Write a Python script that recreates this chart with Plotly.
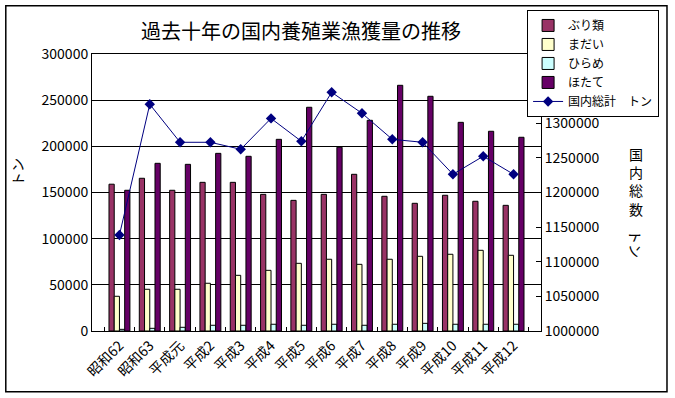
import plotly.graph_objects as go

categories = ["昭和62", "昭和63", "平成元", "平成2", "平成3", "平成4", "平成5",
              "平成6", "平成7", "平成8", "平成9", "平成10", "平成11", "平成12"]
buri = [159000, 165400, 152400, 161000, 161000, 148000, 141500,
        148000, 169700, 145900, 138300, 147000, 140500, 136100]
madai = [37600, 45200, 45200, 51700, 60300, 65700, 73300,
         77700, 72200, 77700, 80900, 83100, 87400, 82000]
hirame = [1800, 2900, 4000, 6200, 6200, 7300, 6200,
          7300, 6200, 7300, 8300, 7300, 7300, 7300]
hotate = [152400, 181600, 180500, 192400, 189200, 207600, 242300,
          199000, 228200, 266100, 254200, 226000, 216300, 209800]
total = [1138600, 1327400, 1272500, 1272500, 1262400, 1307000, 1274000,
         1344700, 1314400, 1276800, 1272500, 1226300, 1252300, 1226300]

left_ticks = [0, 50000, 100000, 150000, 200000, 250000, 300000]
right_ticks = [1000000, 1050000, 1100000, 1150000, 1200000, 1250000, 1300000]

FONT = "Noto Sans CJK JP"

fig = go.Figure()
bar_specs = [("ぶり類", buri, "#993366"), ("まだい", madai, "#FFFFCC"),
             ("ひらめ", hirame, "#CCFFFF"), ("ほたて", hotate, "#660066")]
for name, vals, col in bar_specs:
    fig.add_trace(go.Bar(x=categories, y=vals, name=name,
                         marker=dict(color=col, line=dict(color="black", width=1))))

fig.add_trace(go.Scatter(x=categories, y=total, name="国内総計　トン", yaxis="y2",
                         mode="lines+markers",
                         line=dict(color="#000080", width=1),
                         marker=dict(symbol="diamond", size=8, color="#000080")))

fig.update_layout(
    width=675, height=398,
    margin=dict(l=92, r=134, t=54, b=67, autoexpand=False),
    paper_bgcolor="white", plot_bgcolor="white",
    font=dict(family=FONT, size=13, color="black"),
    barmode="group", bargap=0.31, bargroupgap=0,
    showlegend=True,
    legend=dict(x=0.969, y=1.159, xanchor="left", yanchor="top",
                bgcolor="white", bordercolor="black", borderwidth=1,
                font=dict(family=FONT, size=12), tracegroupgap=0),
    xaxis=dict(type="category", showline=True, linecolor="black", mirror=True,
               ticks="inside", ticklen=4, tickcolor="black", tickson="boundaries",
               tickangle=-45, tickfont=dict(family=FONT, size=14), automargin=False),
    yaxis=dict(range=[0, 300000], tickvals=left_ticks, tickformat="d",
               showgrid=True, gridcolor="black", gridwidth=1,
               showline=True, linecolor="black", mirror=True,
               ticks="inside", ticklen=5, tickcolor="black",
               tickfont=dict(family=FONT, size=14), zeroline=False, automargin=False),
    yaxis2=dict(overlaying="y", side="right", range=[1000000, 1400000],
                tickvals=right_ticks, tickformat="d", showgrid=False,
                showline=True, linecolor="black",
                ticks="inside", ticklen=5, tickcolor="black",
                tickfont=dict(family=FONT, size=14), zeroline=False, automargin=False),
    shapes=[dict(type="rect", xref="paper", yref="paper",
                 x0=-0.192, x1=1.2806, y0=-0.219, y1=1.1744,
                 line=dict(color="black", width=1.5), layer="below")],
    annotations=[
        dict(text="過去十年の国内養殖業漁獲量の推移", xref="paper", yref="paper",
             x=(301 - 92) / 449, y=(331 - 30) / 277, showarrow=False,
             font=dict(family=FONT, size=20), xanchor="center", yanchor="middle"),
        dict(text="トン", xref="paper", yref="paper",
             x=(17 - 92) / 449, y=(331 - 172) / 277, showarrow=False, textangle=-90,
             font=dict(family=FONT, size=14), xanchor="center", yanchor="middle"),
        dict(text="国<br>内<br>総<br>数", xref="paper", yref="paper",
             x=(636 - 92) / 449, y=(331 - 181) / 277, showarrow=False,
             font=dict(family=FONT, size=14), xanchor="center", yanchor="middle"),
        dict(text="トン", xref="paper", yref="paper",
             x=(636 - 92) / 449, y=(331 - 244) / 277, showarrow=False, textangle=90,
             font=dict(family=FONT, size=14), xanchor="center", yanchor="middle"),
    ],
)

fig.write_html("out.html", config={"displayModeBar": False},
               post_script="document.body.style.margin='0';")
